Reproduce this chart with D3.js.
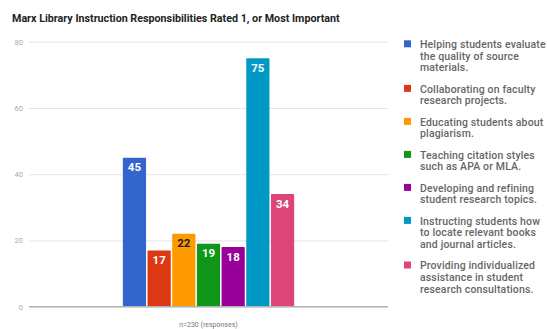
<!DOCTYPE html>
<html><head><meta charset="utf-8">
<script src="https://cdn.jsdelivr.net/npm/d3@7"></script>
<style>html,body{margin:0;padding:0;background:#fff;}svg{display:block;}</style>
</head><body>
<script>
const title = "Marx Library Instruction Responsibilities Rated 1, or Most Important";
const categories = ["n=230 (responses)"];
const seriesNames = [
  "Helping students evaluate the quality of source materials.",
  "Collaborating on faculty research projects.",
  "Educating students about plagiarism.",
  "Teaching citation styles such as APA or MLA.",
  "Developing and refining student research topics.",
  "Instructing students how to locate relevant books and journal articles.",
  "Providing individualized assistance in student research consultations."
];
const legendLines = [
  ["Helping students evaluate", "the quality of source", "materials."],
  ["Collaborating on faculty", "research projects."],
  ["Educating students about", "plagiarism."],
  ["Teaching citation styles", "such as APA or MLA."],
  ["Developing and refining", "student research topics."],
  ["Instructing students how", "to locate relevant books", "and journal articles."],
  ["Providing individualized", "assistance in student", "research consultations."]
];
const values = [45, 17, 22, 19, 18, 75, 34];
const colors = ["#3366cc", "#dc3912", "#ff9900", "#109618", "#990099", "#0099c6", "#dd4477"];
const labelColors = ["#fff", "#fff", "#222", "#fff", "#fff", "#fff", "#fff"];
const yTicks = [0, 20, 40, 60, 80];

const W = 547, H = 329;
const svg = d3.select("body").append("svg").attr("width", W).attr("height", H);
svg.append("rect").attr("width", W).attr("height", H).attr("fill", "#fff");

const plotL = 29, plotR = 388;
const y = d3.scaleLinear().domain([0, 80]).range([306.7, 41.7]);
const xCat = d3.scaleBand().domain(categories).range([plotL, plotR]).paddingInner(0).paddingOuter(0.548);
const x = d3.scaleBand().domain(seriesNames).range([xCat(categories[0]), xCat(categories[0]) + xCat.bandwidth()]).paddingInner(0.06).paddingOuter(0);

// title
const t = svg.append("text").attr("x", 12).attr("y", 21.5)
  .attr("font-family", "Roboto, sans-serif").attr("font-weight", "bold")
  .attr("font-size", 11).attr("fill", "#222").text(title);
const tw = t.node().getComputedTextLength();
t.attr("font-size", 11 * 328 / tw);

// gridlines
const yAxis = d3.axisLeft(y).tickValues(yTicks).tickSize(-(plotR - plotL)).tickPadding(6);
const ga = svg.append("g").attr("transform", `translate(${plotL},0)`).call(yAxis);
ga.select(".domain").remove();
ga.selectAll(".tick line").attr("stroke", "#e3e3e3").attr("stroke-width", 1);
ga.selectAll(".tick text").attr("fill", "#aaa").attr("font-size", 7.5)
  .attr("font-family", "Roboto, sans-serif");

// bars
svg.append("g").selectAll("rect").data(values).join("rect")
  .attr("x", (d, i) => x(seriesNames[i]))
  .attr("width", x.bandwidth())
  .attr("y", d => y(d))
  .attr("height", d => y(0) - y(d))
  .attr("rx", 0.8)
  .attr("fill", (d, i) => colors[i]);

// bar labels
svg.append("g").selectAll("text").data(values).join("text")
  .attr("x", (d, i) => x(seriesNames[i]) + x.bandwidth() / 2)
  .attr("y", d => y(d) + 13.5)
  .attr("text-anchor", "middle")
  .attr("font-family", "Roboto, sans-serif").attr("font-weight", "bold")
  .attr("font-size", 11.5)
  .attr("fill", (d, i) => labelColors[i])
  .text(d => d);

// baseline
svg.append("line").attr("x1", plotL).attr("x2", plotR).attr("y1", y(0)).attr("y2", y(0))
  .attr("stroke", "#b5b5b5").attr("stroke-width", 1.6);

// x category label
svg.append("text").attr("x", xCat(categories[0]) + xCat.bandwidth() / 2).attr("y", 327)
  .attr("text-anchor", "middle").attr("font-family", "Roboto, sans-serif")
  .attr("font-size", 7).attr("fill", "#777").text(categories[0]);

// legend
const lineH = 11.6, gap = 9.8;
let ly = 44.3;
const lg = svg.append("g");
legendLines.forEach((lines, i) => {
  lg.append("rect").attr("x", 404).attr("y", ly - 4).attr("width", 7).attr("height", 7).attr("fill", colors[i]);
  lines.forEach((ln, j) => {
    lg.append("text").attr("x", 420).attr("y", ly + j * lineH + 3.8)
      .attr("font-family", "Roboto, sans-serif").attr("font-weight", 500)
      .attr("font-size", 10.5).attr("letter-spacing", 0.15).attr("fill", "#666").text(ln);
  });
  ly += lines.length * lineH + gap;
});
</script>
</body></html>
